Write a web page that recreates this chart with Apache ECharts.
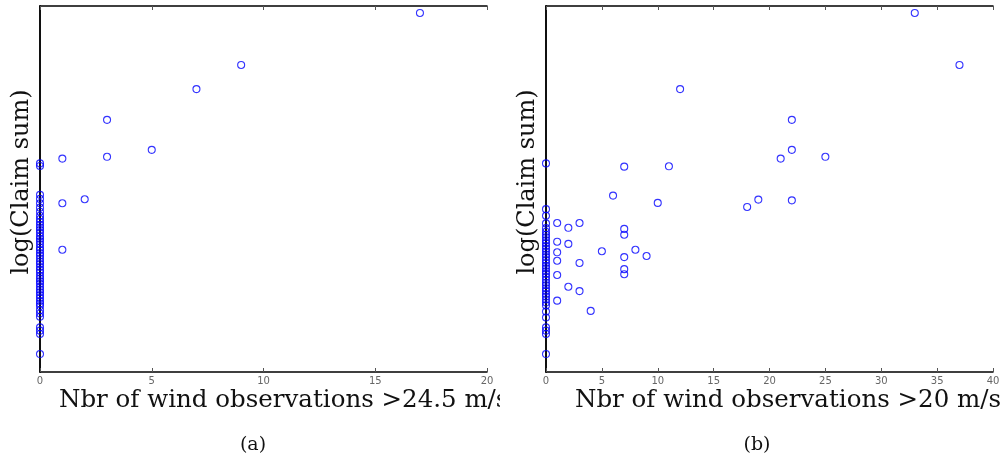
<!DOCTYPE html>
<html>
<head>
<meta charset="utf-8">
<script src="https://cdn.jsdelivr.net/npm/echarts@6/dist/echarts.min.js"></script>
<style>
html,body{margin:0;padding:0;background:#fff;}
#a{position:absolute;left:0;top:0;width:500px;height:459px;overflow:hidden;}
#b{position:absolute;left:500px;top:0;width:503px;height:459px;overflow:hidden;}
</style>
</head>
<body>
<div id="a"></div>
<div id="b"></div>
<script>
// Panel (a): Nbr of wind observations >24.5 m/s vs log(Claim sum)
const xA = [17, 9, 7, 3, 3, 5, 1, 2, 1, 1,
  0, 0, 0, 0, 0, 0, 0, 0,
  0, 0, 0, 0, 0, 0, 0, 0, 0, 0, 0, 0, 0, 0, 0, 0, 0, 0, 0, 0, 0, 0, 0, 0, 0, 0, 0, 0, 0, 0, 0, 0,
  0, 0, 0, 0, 0, 0, 0];
const yA = [15.81, 14.39, 13.73, 12.89, 11.88, 12.07, 11.83, 10.72, 10.61, 9.34,
  11.70, 11.63, 10.84, 10.73, 10.61, 10.49, 10.38, 10.27,
  10.18, 10.10, 10.02, 9.95, 9.88, 9.80, 9.71, 9.64, 9.57, 9.49, 9.40, 9.33, 9.25, 9.18, 9.10, 9.02,
  8.95, 8.87, 8.79, 8.72, 8.63, 8.55, 8.48, 8.41, 8.33, 8.25, 8.18, 8.10, 8.02, 7.94, 7.87, 7.80,
  7.69, 7.60, 7.51, 7.22, 7.13, 7.04, 6.49];

// Panel (b): Nbr of wind observations >20 m/s vs log(Claim sum)
const xB = [33, 37, 12, 22, 22, 21, 25, 11, 10, 18, 19, 22, 0, 7, 6,
  1, 1, 1, 1, 1, 1,
  2, 2, 2,
  3, 3, 3,
  4, 5, 7, 7, 7, 7, 7, 8, 9,
  0, 0, 0, 0,
  0, 0, 0, 0, 0, 0, 0, 0, 0, 0, 0, 0, 0, 0, 0, 0, 0, 0, 0, 0, 0, 0, 0, 0, 0, 0, 0,
  0, 0, 0, 0, 0, 0];
const yB = [15.81, 14.39, 13.73, 12.89, 12.07, 11.83, 11.88, 11.62, 10.62, 10.51, 10.71, 10.69, 11.70, 11.61, 10.82,
  10.07, 9.56, 9.27, 9.04, 8.65, 7.95,
  9.94, 9.50, 8.33,
  10.07, 8.98, 8.21,
  7.67, 9.30, 9.91, 9.75, 9.14, 8.81, 8.67, 9.34, 9.17,
  10.45, 10.27, 10.06, 9.93,
  9.83, 9.75, 9.68, 9.60, 9.52, 9.44, 9.37, 9.29, 9.21, 9.14, 9.06, 8.98, 8.90, 8.83, 8.75, 8.68, 8.60,
  8.52, 8.44, 8.37, 8.29, 8.21, 8.13, 8.06, 7.98, 7.90, 7.82,
  7.65, 7.49, 7.22, 7.13, 7.04, 6.49];

const ticksA = {min: 0, max: 20, interval: 5};
const ticksB = {min: 0, max: 40, interval: 5};
const yRange = {min: 6, max: 16};

const xTitleA = 'Nbr of wind observations >24.5 m/s';
const xTitleB = 'Nbr of wind observations >20 m/s';
const yTitle = 'log(Claim sum)';
const capA = '(a)';
const capB = '(b)';

const SERIF = '"DejaVu Serif", serif';

function build(xs, ys, ticks, gridLeft, xTitle, titleX, cap, capX) {
  const pts = xs.map((x, i) => [x, ys[i]]);
  const axisLine = {show: true, lineStyle: {color: '#000', width: 1.5}};
  return {
    animation: false,
    grid: {left: gridLeft, top: 6, width: 447, height: 366},
    xAxis: [
      {type: 'value', min: ticks.min, max: ticks.max, interval: ticks.interval, position: 'bottom',
       axisLine: axisLine, splitLine: {show: false},
       axisTick: {show: true, inside: true, length: 4, lineStyle: {color: '#555', width: 1}},
       axisLabel: {show: true, color: '#666', fontSize: 10, fontFamily: '"DejaVu Sans", sans-serif', margin: 4}},
      {type: 'value', min: ticks.min, max: ticks.max, interval: ticks.interval, position: 'top',
       axisLine: axisLine, splitLine: {show: false},
       axisTick: {show: true, inside: true, length: 4, lineStyle: {color: '#555', width: 1}},
       axisLabel: {show: false}}
    ],
    yAxis: [
      {type: 'value', min: yRange.min, max: yRange.max, position: 'left',
       axisLine: axisLine, axisTick: {show: false}, axisLabel: {show: false}, splitLine: {show: false}},
      {type: 'value', min: yRange.min, max: yRange.max, position: 'right',
       axisLine: axisLine, axisTick: {show: false}, axisLabel: {show: false}, splitLine: {show: false}}
    ],
    series: [{
      type: 'scatter', data: pts, xAxisIndex: 0, yAxisIndex: 0,
      symbol: 'circle', symbolSize: 7,
      itemStyle: {color: 'rgba(0,0,0,0)', borderColor: '#0000ff', borderWidth: 1.1},
      emphasis: {disabled: true}, silent: true
    }],
    graphic: [
      {type: 'text', x: titleX, y: 401,
       style: {text: xTitle, font: '24.5px ' + SERIF, fill: '#111', align: 'left', verticalAlign: 'middle'}},
      {type: 'text', x: gridLeft - 18, y: 182, rotation: Math.PI / 2,
       style: {text: yTitle, font: '24px ' + SERIF, fill: '#111', align: 'center', verticalAlign: 'middle'}},
      {type: 'text', x: capX, y: 445,
       style: {text: cap, font: '19px ' + SERIF, fill: '#111', align: 'center', verticalAlign: 'middle'}}
    ]
  };
}

const ca = echarts.init(document.getElementById('a'), null, {renderer: 'canvas'});
ca.setOption(build(xA, yA, ticksA, 40, xTitleA, 59, capA, 253));
const cb = echarts.init(document.getElementById('b'), null, {renderer: 'canvas'});
cb.setOption(build(xB, yB, ticksB, 46, xTitleB, 75, capB, 257));
</script>
</body>
</html>
